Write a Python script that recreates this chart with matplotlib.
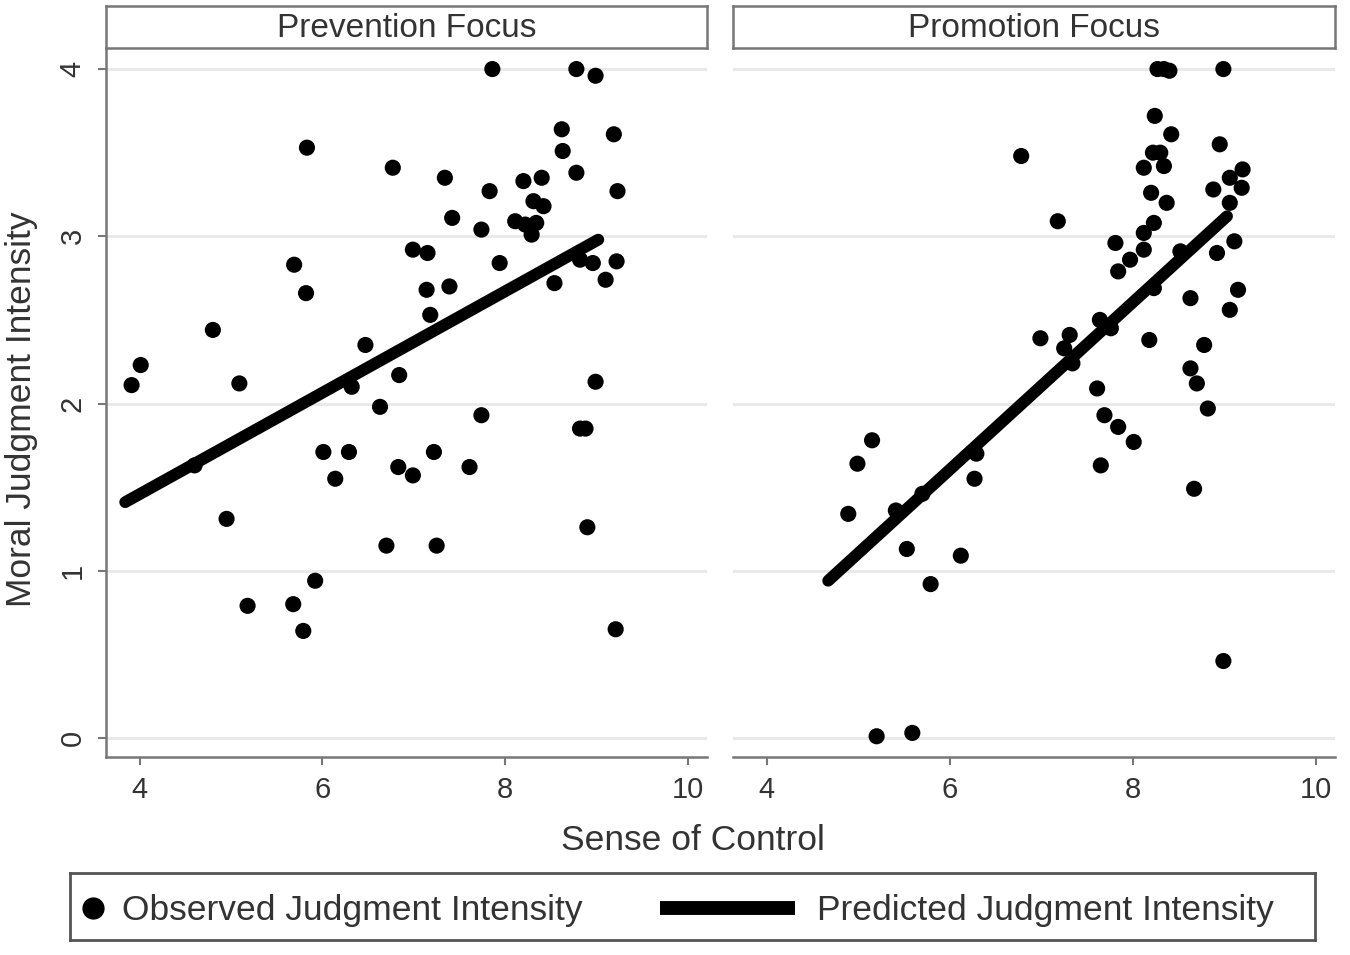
import matplotlib
matplotlib.use("Agg")
import matplotlib.pyplot as plt
from matplotlib.lines import Line2D

plt.rcParams['font.family'] = ['Liberation Sans', 'DejaVu Sans']

# ---------------- data ----------------
panel_titles = ["Prevention Focus", "Promotion Focus"]
x_label = "Sense of Control"
y_label = "Moral Judgment Intensity"
legend_labels = ["Observed Judgment Intensity", "Predicted Judgment Intensity"]
x_ticks = [4, 6, 8, 10]
y_ticks = [0, 1, 2, 3, 4]

prev_x = [3.91, 4.01, 4.80, 5.09, 4.60, 4.95, 5.18, 5.68, 5.79, 5.92,
          6.01, 6.14, 6.29, 6.63, 6.70, 6.83, 6.99, 7.22, 7.25, 7.61,
          7.74, 8.82, 8.88, 8.90, 9.21, 5.83, 6.77, 6.99, 5.69, 5.82,
          6.47, 6.84, 6.32, 7.86, 8.78, 8.99, 8.62, 9.19, 8.63, 8.78,
          7.34, 8.40, 8.20, 7.83, 9.23, 8.31, 8.42, 7.42, 8.11, 8.22,
          8.34, 8.29, 7.74, 7.15, 7.94, 8.82, 8.96, 9.22, 9.10, 8.54,
          7.14, 7.39, 7.18, 8.99]
prev_y = [2.11, 2.23, 2.44, 2.12, 1.63, 1.31, 0.79, 0.80, 0.64, 0.94,
          1.71, 1.55, 1.71, 1.98, 1.15, 1.62, 1.57, 1.71, 1.15, 1.62,
          1.93, 1.85, 1.85, 1.26, 0.65, 3.53, 3.41, 2.92, 2.83, 2.66,
          2.35, 2.17, 2.10, 4.00, 4.00, 3.96, 3.64, 3.61, 3.51, 3.38,
          3.35, 3.35, 3.33, 3.27, 3.27, 3.21, 3.18, 3.11, 3.09, 3.07,
          3.08, 3.01, 3.04, 2.90, 2.84, 2.86, 2.84, 2.85, 2.74, 2.72,
          2.68, 2.70, 2.53, 2.13]
prev_pred_x = [3.84, 9.02]
prev_pred_y = [1.41, 2.98]

prom_x = [8.27, 8.34, 8.40, 8.99, 8.24, 8.42, 6.78, 8.95, 8.22, 8.30,
          8.12, 8.34, 9.20, 9.06, 9.19, 8.88, 8.20, 8.37, 9.06, 7.18,
          8.23, 8.12, 7.81, 8.12, 7.97, 7.84, 9.11, 8.92, 8.52, 8.23,
          8.63, 9.15, 9.06, 7.64, 7.76, 6.99, 7.31, 7.25, 7.34, 8.18,
          8.78, 8.63, 8.70, 7.61, 8.82, 7.69, 7.84, 8.01, 7.65, 8.67,
          5.15, 4.99, 4.89, 5.41, 5.70, 6.29, 6.27, 5.53, 6.12, 5.79,
          8.99, 5.20, 5.59]
prom_y = [4.00, 4.00, 3.99, 4.00, 3.72, 3.61, 3.48, 3.55, 3.50, 3.50,
          3.41, 3.42, 3.40, 3.35, 3.29, 3.28, 3.26, 3.20, 3.20, 3.09,
          3.08, 3.02, 2.96, 2.92, 2.86, 2.79, 2.97, 2.90, 2.91, 2.69,
          2.63, 2.68, 2.56, 2.50, 2.45, 2.39, 2.41, 2.33, 2.24, 2.38,
          2.35, 2.21, 2.12, 2.09, 1.97, 1.93, 1.86, 1.77, 1.63, 1.49,
          1.78, 1.64, 1.34, 1.36, 1.46, 1.70, 1.55, 1.13, 1.09, 0.92,
          0.46, 0.01, 0.03]
prom_pred_x = [4.67, 9.03]
prom_pred_y = [0.94, 3.12]

# ---------------- layout ----------------
W, H = 1350, 955
fig = plt.figure(figsize=(W / 100, H / 100), dpi=100)
fig.patch.set_facecolor("white")

TXT = "#333333"
AX = "#777777"
GRID = "#e8e8e8"


def fr(x0, y0, x1, y1):
    return [x0 / W, 1 - y1 / H, (x1 - x0) / W, (y1 - y0) / H]


panels = [
    (fr(106, 48, 707, 757), fr(106, 6, 707, 48), prev_x, prev_y, prev_pred_x, prev_pred_y, True),
    (fr(733, 48, 1335, 757), fr(733, 6, 1335, 48), prom_x, prom_y, prom_pred_x, prom_pred_y, False),
]

for i, (rect, hrect, xs, ys, px, py, first) in enumerate(panels):
    ax = fig.add_axes(rect)
    ax.set_xlim(3.63, 10.21)
    ax.set_ylim(-0.114, 4.126)
    ax.set_yticks(y_ticks)
    ax.set_xticks(x_ticks)
    ax.grid(axis='y', color=GRID, linewidth=2)
    ax.set_axisbelow(True)
    for s in ['top', 'right']:
        ax.spines[s].set_visible(False)
    ax.spines['bottom'].set_color(AX)
    ax.spines['bottom'].set_linewidth(1.8)
    ax.tick_params(axis='x', colors=AX, length=6, width=1.5, pad=8,
                   labelsize=21, labelcolor=TXT)
    if first:
        ax.spines['left'].set_color(AX)
        ax.spines['left'].set_linewidth(1.8)
        ax.tick_params(axis='y', colors=AX, length=6, width=1.5, pad=8,
                       labelsize=21, labelcolor=TXT, labelrotation=90)
        for lab in ax.get_yticklabels():
            lab.set_verticalalignment('center')
    else:
        ax.spines['left'].set_visible(False)
        ax.tick_params(axis='y', left=False, labelleft=False)

    ax.scatter(xs, ys, s=135, color='black', edgecolors='none', zorder=3)
    ax.plot(px, py, color='black', linewidth=8.5, solid_capstyle='round', zorder=4)

    hax = fig.add_axes(hrect)
    hax.set_xticks([])
    hax.set_yticks([])
    for s in hax.spines.values():
        s.set_color(AX)
        s.set_linewidth(1.8)
    hax.text(0.5, 0.47, panel_titles[i], ha='center', va='center',
             fontsize=24, color=TXT, transform=hax.transAxes)

fig.text(693 / W, 1 - 840 / H, x_label, ha='center', va='center', fontsize=25.5, color=TXT)
fig.text(22 / W, 1 - 409 / H, y_label, ha='center', va='center', rotation=90,
         fontsize=25.5, color=TXT)

# legend box
lax = fig.add_axes(fr(70, 873, 1315, 940))
lax.set_xlim(0, 1245)
lax.set_ylim(0, 67)
lax.set_xticks([])
lax.set_yticks([])
for s in lax.spines.values():
    s.set_color("#555555")
    s.set_linewidth(2)
lax.add_line(Line2D([23], [32], marker='o', markersize=15, color='black',
                    linestyle='none'))
lax.add_line(Line2D([590, 725], [32, 32], color='black', linewidth=10,
                    solid_capstyle='butt'))
lax.text(52, 30, legend_labels[0], ha='left', va='center', fontsize=25.5, color=TXT)
lax.text(747, 30, legend_labels[1], ha='left', va='center', fontsize=25.5, color=TXT)

fig.savefig("out.png", dpi=100, facecolor="white")
